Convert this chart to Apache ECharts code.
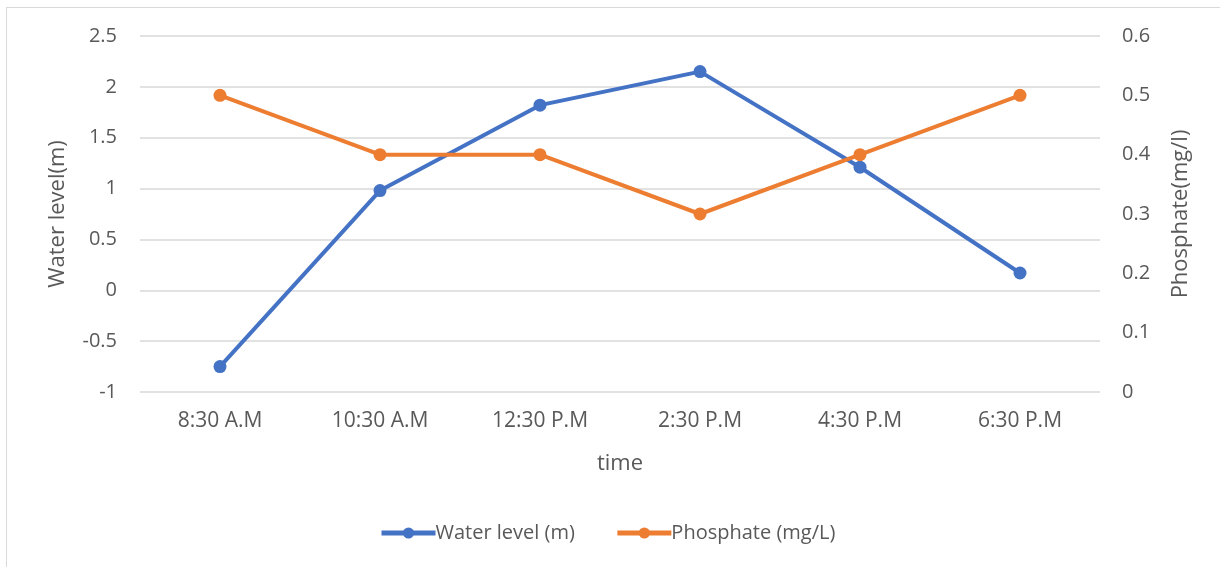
<!DOCTYPE html>
<html>
<head>
<meta charset="utf-8">
<script src="https://cdn.jsdelivr.net/npm/echarts@6/dist/echarts.min.js"></script>
<style>
  html, body { margin: 0; padding: 0; background: #fff; }
  #frame { position: absolute; left: 6px; top: 7px; width: 1220px; height: 570px; border: 1px solid #d9d9d9; box-sizing: border-box; }
  #chart { width: 1220px; height: 567px; }
</style>
</head>
<body>
<div id="frame"></div>
<div id="chart"></div>
<script>
// Sampling times along the day
const times = ['8:30 A.M', '10:30 A.M', '12:30 P.M', '2:30 P.M', '4:30 P.M', '6:30 P.M'];
// Water level readings (m)
const waterLevel = [-0.75, 0.98, 1.82, 2.15, 1.21, 0.17];
// Phosphate concentration (mg/L)
const phosphate = [0.5, 0.4, 0.4, 0.3, 0.4, 0.5];

const FONT = "'Open Sans', 'Liberation Sans', sans-serif";
const TXT = '#595959';
const BLUE = '#4472c4';
const ORANGE = '#ed7d31';

const chart = echarts.init(document.getElementById('chart'), null, { renderer: 'canvas' });
chart.setOption({
  animation: false,
  backgroundColor: 'transparent',
  grid: { left: 140, right: 120, top: 36, bottom: 175, containLabel: false },
  legend: {
    top: 523,
    left: 379,
    padding: 0,
    itemWidth: 54,
    itemHeight: 14,
    itemGap: 40,
    lineStyle: { width: 5 },
    textStyle: { color: TXT, fontFamily: FONT, fontSize: 20, padding: [0, 0, 0, -5] },
    data: ['Water level (m)', 'Phosphate (mg/L)']
  },
  xAxis: {
    type: 'category',
    data: times,
    name: 'time',
    nameLocation: 'middle',
    nameGap: 61,
    nameTextStyle: { color: TXT, fontFamily: FONT, fontSize: 22 },
    axisLine: { show: false },
    axisTick: { show: false },
    axisLabel: { color: TXT, fontFamily: FONT, fontSize: 21, margin: 19 }
  },
  yAxis: [
    {
      type: 'value',
      min: -1, max: 2.5, interval: 0.5,
      name: 'Water level(m)',
      nameLocation: 'middle',
      nameGap: 71,
      nameTextStyle: { color: TXT, fontFamily: FONT, fontSize: 22 },
      axisLine: { show: false },
      axisTick: { show: false },
      axisLabel: { color: TXT, fontFamily: FONT, fontSize: 20, margin: 23 },
      splitLine: { lineStyle: { color: '#d9d9d9', width: 1.5 } }
    },
    {
      type: 'value',
      min: 0, max: 0.6, interval: 0.1,
      name: 'Phosphate(mg/l)',
      nameLocation: 'middle',
      nameGap: 70,
      nameRotate: 90,
      nameTextStyle: { color: TXT, fontFamily: FONT, fontSize: 22 },
      axisLine: { show: false },
      axisTick: { show: false },
      axisLabel: { color: TXT, fontFamily: FONT, fontSize: 20, margin: 22 },
      splitLine: { show: false }
    }
  ],
  series: [
    {
      name: 'Water level (m)',
      type: 'line',
      yAxisIndex: 0,
      data: waterLevel,
      symbol: 'circle',
      symbolSize: 13,
      color: BLUE,
      lineStyle: { width: 4, color: BLUE },
      itemStyle: { color: BLUE },
      z: 3
    },
    {
      name: 'Phosphate (mg/L)',
      type: 'line',
      yAxisIndex: 1,
      data: phosphate,
      symbol: 'circle',
      symbolSize: 13,
      color: ORANGE,
      lineStyle: { width: 4, color: ORANGE },
      itemStyle: { color: ORANGE },
      z: 4
    }
  ]
});
</script>
</body>
</html>
